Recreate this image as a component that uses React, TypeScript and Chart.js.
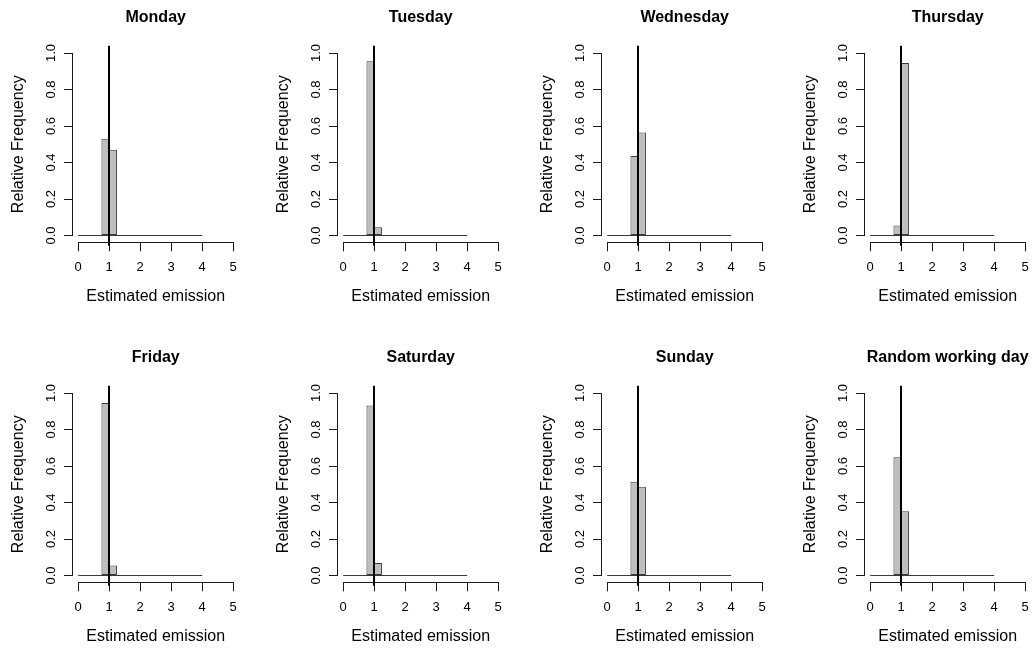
import React, { useEffect, useRef } from "react";
import { Chart, registerables } from "chart.js";

Chart.register(...registerables);

// Histogram bins of the estimated emission (width 0.25, from 0 to 4)
const binEdges = [0, 0.25, 0.5, 0.75, 1, 1.25, 1.5, 1.75, 2, 2.25, 2.5, 2.75, 3, 3.25, 3.5, 3.75, 4];

// Relative frequency per bin for each day
const monday = [0, 0, 0, 0.53, 0.47, 0, 0, 0, 0, 0, 0, 0, 0, 0, 0, 0];
const tuesday = [0, 0, 0, 0.955, 0.045, 0, 0, 0, 0, 0, 0, 0, 0, 0, 0, 0];
const wednesday = [0, 0, 0, 0.435, 0.565, 0, 0, 0, 0, 0, 0, 0, 0, 0, 0, 0];
const thursday = [0, 0, 0, 0.055, 0.945, 0, 0, 0, 0, 0, 0, 0, 0, 0, 0, 0];
const friday = [0, 0, 0, 0.945, 0.055, 0, 0, 0, 0, 0, 0, 0, 0, 0, 0, 0];
const saturday = [0, 0, 0, 0.932, 0.068, 0, 0, 0, 0, 0, 0, 0, 0, 0, 0, 0];
const sunday = [0, 0, 0, 0.514, 0.486, 0, 0, 0, 0, 0, 0, 0, 0, 0, 0, 0];
const randomWorkingDay = [0, 0, 0, 0.648, 0.352, 0, 0, 0, 0, 0, 0, 0, 0, 0, 0, 0];

const panelTitles = [
  "Monday",
  "Tuesday",
  "Wednesday",
  "Thursday",
  "Friday",
  "Saturday",
  "Sunday",
  "Random working day",
];
const panelSeries = [monday, tuesday, wednesday, thursday, friday, saturday, sunday, randomWorkingDay];

// Axis ticks
const xTicks = [0, 1, 2, 3, 4, 5];
const xTickLabels = ["0", "1", "2", "3", "4", "5"];
const yTicks = [0, 0.2, 0.4, 0.6, 0.8, 1.0];
const yTickLabels = ["0.0", "0.2", "0.4", "0.6", "0.8", "1.0"];

// Reference emission marked by the vertical line
const referenceValue = 1;

const xLabel = "Estimated emission";
const yLabel = "Relative Frequency";

const FONT = "'Liberation Sans', Arial, Helvetica, sans-serif";
const AXIS_COLOR = "#1a1a1a";
const BAR_BORDER = "#3a3a3a";
const BAR_FILL = "#bebebe";

const PANEL_W = 264;
const PANEL_H = 340;
const colLefts = [0, 265, 529, 792];
const rowTops = [0, 340];

function align1(px: number) {
  return Math.round(px - 0.5) + 0.5;
}

function Panel({ title, values, left, top }: { title: string; values: number[]; left: number; top: number }) {
  const ref = useRef<HTMLCanvasElement | null>(null);

  useEffect(() => {
    const canvas = ref.current;
    if (!canvas) return;

    const bars = values.map((v, i) => ({ x: (binEdges[i] + binEdges[i + 1]) / 2, y: v }));
    const baseline = [
      { x: binEdges[0], y: 0 },
      { x: binEdges[binEdges.length - 1], y: 0 },
    ];

    const decorations = {
      id: "panelDecorations",
      afterDatasetsDraw(chart: any) {
        const { ctx, chartArea, scales } = chart;
        const xs = scales.x;
        const px = Math.round(xs.getPixelForValue(referenceValue) - 1) + 1;
        ctx.save();
        ctx.strokeStyle = "#000";
        ctx.lineWidth = 2;
        ctx.beginPath();
        ctx.moveTo(px, chartArea.top);
        ctx.lineTo(px, chartArea.bottom + 3);
        ctx.stroke();
        ctx.restore();
      },
      afterDraw(chart: any) {
        const { ctx, chartArea, scales } = chart;
        const xs = scales.x;
        const ys = scales.y;
        ctx.save();
        ctx.strokeStyle = AXIS_COLOR;
        ctx.lineWidth = 1;
        // x axis line between first and last tick
        const yAxisPos = align1(chartArea.bottom);
        ctx.beginPath();
        ctx.moveTo(align1(xs.getPixelForValue(xTicks[0])) - 0.5, yAxisPos);
        ctx.lineTo(align1(xs.getPixelForValue(xTicks[xTicks.length - 1])) + 0.5, yAxisPos);
        ctx.stroke();
        // y axis line between first and last tick
        const xAxisPos = align1(chartArea.left);
        ctx.beginPath();
        ctx.moveTo(xAxisPos, align1(ys.getPixelForValue(yTicks[0])) + 0.5);
        ctx.lineTo(xAxisPos, align1(ys.getPixelForValue(yTicks[yTicks.length - 1])) - 0.5);
        ctx.stroke();
        // panel title
        ctx.fillStyle = "#000";
        ctx.font = `bold 16px ${FONT}`;
        ctx.textAlign = "center";
        ctx.textBaseline = "middle";
        ctx.fillText(title, (chartArea.left + chartArea.right) / 2, 17.5);
        ctx.restore();
      },
    };

    const chart = new Chart(canvas, {
      type: "bar",
      data: {
        datasets: [
          {
            type: "bar",
            data: bars as any,
            backgroundColor: BAR_FILL,
            borderColor: BAR_BORDER,
            borderWidth: 1,
            borderSkipped: false,
            barPercentage: 1,
            categoryPercentage: 1,
            inflateAmount: 0,
          } as any,
          {
            type: "line",
            data: baseline as any,
            borderColor: BAR_BORDER,
            borderWidth: 1,
            pointRadius: 0,
            fill: false,
          } as any,
        ],
      },
      options: {
        animation: false,
        responsive: false,
        events: [],
        layout: { padding: { top: 45.7, right: 24.6, left: 0, bottom: 0 } },
        plugins: { legend: { display: false }, tooltip: { enabled: false }, title: { display: false } },
        scales: {
          x: {
            type: "linear",
            min: -0.2,
            max: 5.2,
            offset: false,
            bounds: "data",
            afterBuildTicks: (axis: any) => {
              axis.ticks = xTicks.map((v) => ({ value: v }));
            },
            afterFit: (axis: any) => {
              axis.height = 97.2;
            },
            grid: {
              offset: false,
              drawOnChartArea: false,
              drawTicks: true,
              tickLength: 8.5,
              tickColor: AXIS_COLOR,
              tickWidth: 1,
              color: AXIS_COLOR,
            },
            border: { display: false },
            ticks: {
              autoSkip: false,
              maxRotation: 0,
              minRotation: 0,
              padding: 8.4,
              color: "#000",
              font: { family: FONT, size: 13 },
              callback: (_v: any, i: number) => xTickLabels[i],
            },
            title: {
              display: true,
              text: xLabel,
              color: "#000",
              font: { family: FONT, size: 16 },
              padding: { top: 0, bottom: 33.7 },
            },
          },
          y: {
            type: "linear",
            min: -0.04,
            max: 1.04,
            bounds: "data",
            afterBuildTicks: (axis: any) => {
              axis.ticks = yTicks.map((v) => ({ value: v }));
            },
            afterFit: (axis: any) => {
              axis.width = 72;
            },
            grid: {
              drawOnChartArea: false,
              drawTicks: true,
              tickLength: 8,
              tickColor: AXIS_COLOR,
              tickWidth: 1,
              color: AXIS_COLOR,
            },
            border: { display: false },
            ticks: {
              autoSkip: false,
              minRotation: 90,
              maxRotation: 90,
              crossAlign: "center",
              padding: 3.6,
              color: "#000",
              font: { family: FONT, size: 13 },
              callback: (_v: any, i: number) => yTickLabels[i],
            },
            title: {
              display: true,
              text: yLabel,
              color: "#000",
              font: { family: FONT, size: 16 },
              padding: { top: 8.6, bottom: 0 },
            },
          },
        },
      },
      plugins: [decorations],
    } as any);

    return () => chart.destroy();
  }, [title, values]);

  return (
    <canvas
      ref={ref}
      width={PANEL_W}
      height={PANEL_H}
      style={{ position: "absolute", left, top, width: PANEL_W, height: PANEL_H, display: "block" }}
    />
  );
}

export default function App() {
  return (
    <div
      style={{
        position: "absolute",
        left: 0,
        top: 0,
        width: 1032,
        height: 650,
        overflow: "hidden",
        background: "#fff",
      }}
    >
      {panelTitles.map((t, i) => (
        <Panel
          key={t}
          title={t}
          values={panelSeries[i]}
          left={colLefts[i % 4]}
          top={rowTops[Math.floor(i / 4)]}
        />
      ))}
    </div>
  );
}
